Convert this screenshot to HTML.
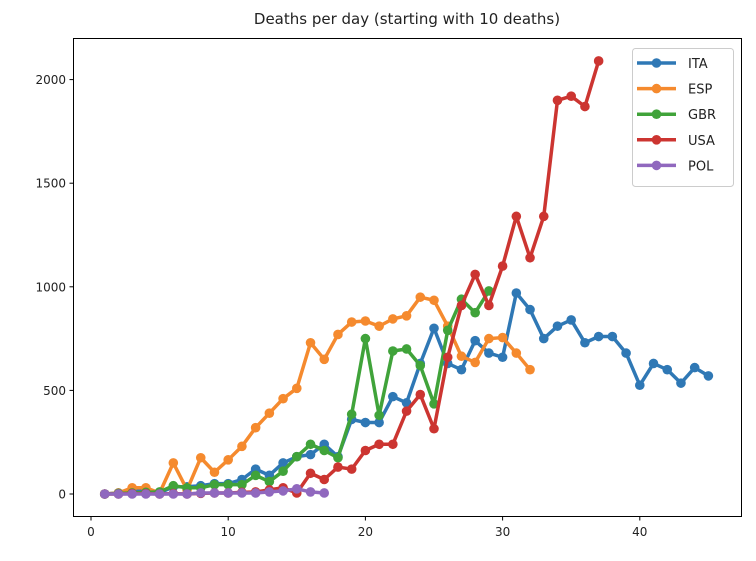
<!DOCTYPE html>
<html><head><meta charset="utf-8"><style>
body{margin:0;background:#fff;}
svg text{font-family:"DejaVu Sans","Liberation Sans",sans-serif;fill:#222;}
</style></head><body>
<svg id="chart" width="756" height="556" xmlns="http://www.w3.org/2000/svg">
<text x="407" y="24" font-size="15" text-anchor="middle">Deaths per day (starting with 10 deaths)</text>
<g id="plot"></g>
<rect x="73.5" y="38.5" width="668" height="478" fill="none" stroke="#000" stroke-width="1"/>
<g id="axes"></g>
<g id="legend"></g>
</svg>
<script>
const xTicks=[0,10,20,30,40];
const yTicks=[0,500,1000,1500,2000];
const seriesNames=["ITA","ESP","GBR","USA","POL"];
const seriesColors=["#2f78b5","#f58a2e","#40a33a","#cc3531","#9068be"];
const ITA=[0,5,15,15,5,35,35,40,50,50,70,120,90,150,180,190,240,180,360,345,345,470,440,630,800,630,600,740,680,660,970,890,750,810,840,730,760,760,680,525,630,600,535,610,570];
const ESP=[0,5,30,30,5,150,20,175,105,165,230,320,390,460,510,730,650,770,830,835,810,845,860,950,935,810,665,635,750,755,680,600];
const GBR=[0,3,5,8,10,40,30,30,45,45,45,90,60,110,180,240,210,175,385,750,380,690,700,620,435,790,940,875,980];
const USA=[0,0,2,2,0,2,0,3,5,5,8,10,20,30,5,100,70,130,120,210,240,240,400,480,315,660,910,1060,910,1100,1340,1140,1340,1900,1920,1870,2090];
const POL=[0,0,0,0,0,0,0,5,5,5,5,5,10,15,25,10,5];
const seriesData=[ITA,ESP,GBR,USA,POL];
const NS="http://www.w3.org/2000/svg";
const xs=d=>91+13.72*d;
const ys=v=>494-0.2072*v;
function mk(tag,attrs,parent){const e=document.createElementNS(NS,tag);for(const k in attrs)e.setAttribute(k,attrs[k]);parent.appendChild(e);return e;}
const axes=document.getElementById('axes'),plot=document.getElementById('plot'),leg=document.getElementById('legend');
xTicks.forEach(t=>{
  const l=mk('line',{x1:xs(t),x2:xs(t),y1:516.5,y2:520.5,stroke:'#000'},axes);
  
  
  const tx=mk('text',{x:xs(t),y:536,'font-size':'12','text-anchor':'middle'},axes);tx.textContent=t;
  
  
});
yTicks.forEach(t=>{
  const l=mk('line',{x1:69.5,x2:73.5,y1:ys(t),y2:ys(t),stroke:'#000'},axes);
  
  
  const tx=mk('text',{x:66,y:ys(t)+4.5,'font-size':'12','text-anchor':'end'},axes);tx.textContent=t;
  
  
});
seriesData.forEach((arr,i)=>{
  const g=mk('g',{},plot);
  
  
  const pts=arr.map((v,k)=>xs(k+1)+','+ys(v)).join(' ');
  mk('polyline',{points:pts,fill:'none',stroke:seriesColors[i],'stroke-width':3.5,'stroke-linejoin':'round'},g);
  arr.forEach((v,k)=>{
    const c=mk('circle',{cx:xs(k+1),cy:ys(v),r:4.8,fill:seriesColors[i]},g);
    
    
  });
});
mk('rect',{x:632.5,y:48.5,width:101,height:138,rx:3,fill:'#fff','fill-opacity':0.8,stroke:'#ccc'},leg);
seriesNames.forEach((n,i)=>{
  const y=63+25.6*i;
  const g=mk('g',{},leg);
  
  
  mk('line',{x1:637,x2:676,y1:y,y2:y,stroke:seriesColors[i],'stroke-width':3.5},g);
  mk('circle',{cx:656.5,cy:y,r:4.8,fill:seriesColors[i]},g);
  const t=mk('text',{x:688,y:y+5,'font-size':'13'},g);t.textContent=n;
});
</script>
</body></html>
